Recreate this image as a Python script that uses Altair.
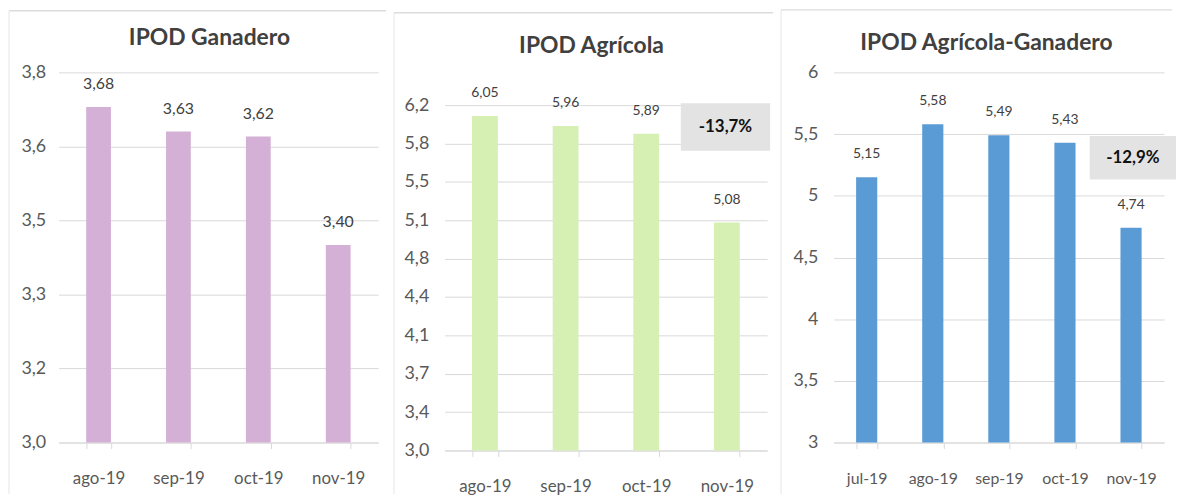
import altair as alt
import pandas as pd

# ---------------- data ----------------
p1_months = ["ago-19", "sep-19", "oct-19", "nov-19"]
p1_values = [3.68, 3.63, 3.62, 3.40]
p1_ticks = [3.0, 3.15, 3.3, 3.45, 3.6, 3.75]
p1_tick_labels = ["3,0", "3,2", "3,3", "3,5", "3,6", "3,8"]

p2_months = ["ago-19", "sep-19", "oct-19", "nov-19"]
p2_values = [6.05, 5.96, 5.89, 5.08]
p2_ticks = [3.0, 3.35, 3.7, 4.05, 4.4, 4.75, 5.1, 5.45, 5.8, 6.15]
p2_tick_labels = ["3,0", "3,4", "3,7", "4,1", "4,4", "4,8", "5,1", "5,5", "5,8", "6,2"]

p3_months = ["jul-19", "ago-19", "sep-19", "oct-19", "nov-19"]
p3_values = [5.15, 5.58, 5.49, 5.43, 4.74]
p3_ticks = [3.0, 3.5, 4.0, 4.5, 5.0, 5.5, 6.0]
p3_tick_labels = ["3", "3,5", "4", "4,5", "5", "5,5", "6"]

titles = ["IPOD Ganadero", "IPOD Agrícola", "IPOD Agrícola-Ganadero"]
annotations = [None, "-13,7%", "-12,9%"]

FONT = "Lato"
GRID = "#d9d9d9"


def label_expr(ticks, labels):
    t = ",".join(repr(float(v)) for v in ticks)
    l = ",".join("'" + s + "'" for s in labels)
    return f"[{l}][indexof([{t}], datum.value)]"


def panel(months, values, ticks, tick_labels, color, title, annot,
          w, h, y_top, frame, title_xy, annot_box, pad_inner, ylab_pad, xlab_pad,
          val_size, xlab_size):
    df = pd.DataFrame({
        "month": months,
        "value": values,
        "label": [f"{v:.2f}".replace(".", ",") for v in values],
    })
    one = pd.DataFrame({"k": [0]})

    x = alt.X(
        "month:N", sort=months,
        scale=alt.Scale(paddingInner=pad_inner, paddingOuter=pad_inner / 2),
        axis=alt.Axis(title=None, labelAngle=0, tickBand="extent", ticks=True,
                      tickSize=6, tickColor=GRID, domainColor=GRID, grid=False,
                      labelPadding=xlab_pad, labelFont=FONT, labelFontSize=xlab_size,
                      labelColor="#595959"),
    )
    y = alt.Y(
        "value:Q",
        scale=alt.Scale(domain=[ticks[0], ticks[-1]], nice=False, zero=False,
                        range=[y_top + h, y_top]),
        axis=alt.Axis(title=None, values=ticks,
                      labelExpr=label_expr(ticks, tick_labels),
                      domain=False, ticks=False, gridColor=GRID,
                      labelPadding=ylab_pad, labelFont=FONT, labelFontSize=18,
                      labelColor="#595959"),
    )

    fx0, fx1, fy0, fy1 = frame
    bg = alt.Chart(one).mark_rect(fill="white", fillOpacity=0, strokeOpacity=0).encode(
        x=alt.value(fx0), x2=alt.value(fx1), y=alt.value(fy0), y2=alt.value(fy1))
    top = alt.Chart(one).mark_rule(color="#dcdcdc", strokeWidth=1.5).encode(
        x=alt.value(fx0), x2=alt.value(fx1), y=alt.value(fy0))
    left = alt.Chart(one).mark_rule(color="#e6e6e6", strokeWidth=1).encode(
        x=alt.value(fx0), y=alt.value(fy0), y2=alt.value(fy1))

    base = alt.Chart(df)
    bars = base.mark_bar(color=color).encode(x=x, y=y, y2=alt.datum(ticks[0]))
    labels = base.mark_text(dy=-23, baseline="middle", font=FONT, fontSize=val_size,
                            color="#404040").encode(
        x=alt.X("month:N", sort=months), y="value:Q", text="label:N")
    ttl = alt.Chart(one).mark_text(font=FONT, fontSize=23, fontWeight="bold",
                                   color="#404040", baseline="middle").encode(
        x=alt.value(title_xy[0]), y=alt.value(title_xy[1]), text=alt.value(title))

    layers = [bg, top, left, bars, labels, ttl]
    if annot:
        bx0, bx1, by0, by1 = annot_box
        box = alt.Chart(one).mark_rect(fill="#e3e3e3").encode(
            x=alt.value(bx0), x2=alt.value(bx1), y=alt.value(by0), y2=alt.value(by1))
        atext = alt.Chart(one).mark_text(font=FONT, fontSize=17, fontWeight="bold",
                                         color="#111111", baseline="middle").encode(
            x=alt.value((bx0 + bx1) / 2), y=alt.value((by0 + by1) / 2),
            text=alt.value(annot))
        layers += [box, atext]

    return alt.layer(*layers).properties(width=w, height=y_top + h)


# panel frame / title / annotation positions are relative to the top of the plot
c1 = panel(p1_months, p1_values, p1_ticks, p1_tick_labels, "#d4b0d6", titles[0],
           annotations[0], 322, 373, 0, (-50, 330, -62, 425), (152, -35), None,
           0.69, 13, 22, 16, 17)
c2 = panel(p2_months, p2_values, p2_ticks, p2_tick_labels, "#d6efb2", titles[1],
           annotations[1], 325, 348, 33, (-51, 331, -60, 425), (148, -27),
           (238, 328, 31, 79), 0.68, 16, 22, 14, 17)
c3 = panel(p3_months, p3_values, p3_ticks, p3_tick_labels, "#5b9bd5", titles[2],
           annotations[2], 333, 373, 0, (-53, 341, -63, 425), (154, -30),
           (258, 345, 64, 108), 0.68, 16, 22, 14, 16)

chart = alt.hconcat(
    c1, c2, c3, spacing=6,
    padding={"top": -1, "left": 0, "right": 0, "bottom": 0},
).configure_view(stroke=None)

chart.save("out.html", embed_options={"renderer": "svg", "actions": False})
